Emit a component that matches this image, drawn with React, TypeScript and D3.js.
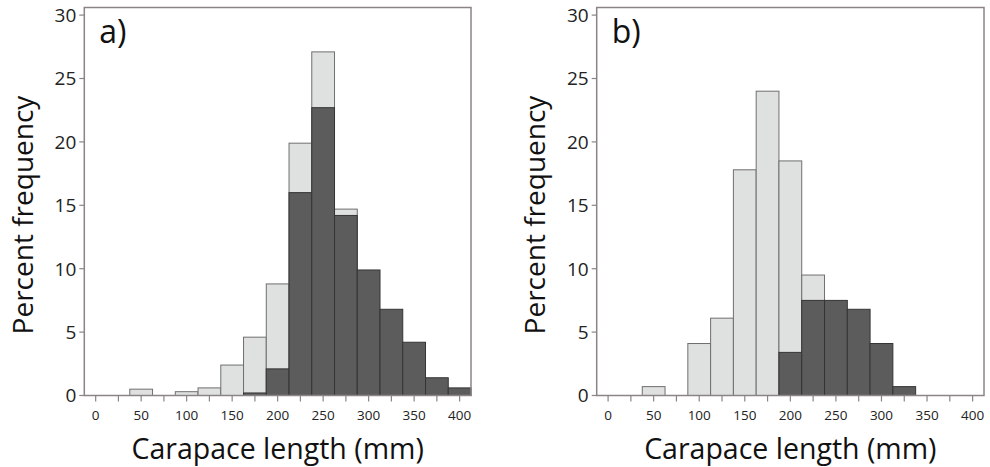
import React from 'react';
import * as d3 from 'd3';

// histogram bins are 25 mm wide, centred on multiples of 25
const binCenters = [0, 25, 50, 75, 100, 125, 150, 175, 200, 225, 250, 275, 300, 325, 350, 375, 400];

// panel a) light and dark series (percent frequency)
const lightA = [0, 0, 0.5, 0, 0.3, 0.6, 2.4, 4.6, 8.8, 19.9, 27.1, 14.7, 0, 0, 0, 0, 0];
const darkA = [0, 0, 0, 0, 0, 0, 0, 0.2, 2.1, 16.0, 22.7, 14.2, 9.9, 6.8, 4.2, 1.4, 0.6];

// panel b)
const lightB = [0, 0, 0.7, 0, 4.1, 6.1, 17.8, 24.0, 18.5, 9.5, 0, 0, 0, 0, 0, 0, 0];
const darkB = [0, 0, 0, 0, 0, 0, 0, 0, 3.4, 7.5, 7.5, 6.8, 4.1, 0.7, 0, 0, 0];

const xTickLabels = [0, 50, 100, 150, 200, 250, 300, 350, 400];
const xMinorTicks = [0, 25, 50, 75, 100, 125, 150, 175, 200, 225, 250, 275, 300, 325, 350, 375, 400];
const yTickLabels = [0, 5, 10, 15, 20, 25, 30];

const x_label = "Carapace length (mm)";
const y_label = "Percent frequency";

const W = 990;
const H = 467;
const plotTop = 7.5;
const plotBottom = 395.5;
const binWidth = 25;
const font = '"Open Sans", "Noto Sans", sans-serif';

const frameColor = '#8c8484';
const lightFill = '#dfe1e1';
const lightStroke = '#6f6f6f';
const darkFill = '#5c5c5c';
const darkStroke = '#353535';

interface PanelProps {
    left: number;
    right: number;
    tag: string;
    light: number[];
    dark: number[];
}

const Panel: React.FC<PanelProps> = (props) => {
    const xScale = d3.scaleLinear().domain([-12.5, 412.5]).range([props.left, props.right]);
    const yScale = d3.scaleLinear().domain([0, 30.6]).range([plotBottom, plotTop]);

    const bar = (c: number, v: number, fill: string, stroke: string, key: string) => {
        if (!v) return null;
        const x0 = xScale(c - binWidth / 2);
        const x1 = xScale(c + binWidth / 2);
        return (
            <rect key={key} x={x0} y={yScale(v)} width={x1 - x0} height={yScale(0) - yScale(v)}
                fill={fill} stroke={stroke} strokeWidth={1} />
        );
    };

    const midX = (props.left + props.right) / 2;

    return (
        <g>
            {/* light bars first, dark bars drawn over them */}
            {binCenters.map((c, i) => bar(c, props.light[i], lightFill, lightStroke, `l${i}`))}
            {binCenters.map((c, i) => bar(c, props.dark[i], darkFill, darkStroke, `d${i}`))}

            {/* frame */}
            <rect x={props.left} y={plotTop} width={props.right - props.left} height={plotBottom - plotTop}
                fill="none" stroke={frameColor} strokeWidth={1.5} />

            {/* y axis */}
            {yTickLabels.map(t => (
                <g key={`y${t}`}>
                    <line x1={props.left - 5} x2={props.left} y1={yScale(t)} y2={yScale(t)} stroke={frameColor} strokeWidth={1.2} />
                    <text x={props.left - 8} y={yScale(t)} dy="0.36em" textAnchor="end"
                        fontFamily={font} fontSize={19} fill="#222">{t}</text>
                </g>
            ))}

            {/* x axis */}
            {xMinorTicks.map(t => (
                <line key={`xt${t}`} x1={xScale(t)} x2={xScale(t)} y1={plotBottom} y2={plotBottom + 6}
                    stroke={frameColor} strokeWidth={1.2} />
            ))}
            {xTickLabels.map(t => (
                <text key={`xl${t}`} x={xScale(t)} y={420} textAnchor="middle"
                    fontFamily={font} fontSize={13.5} fill="#222">{t}</text>
            ))}

            {/* panel tag */}
            <text x={props.left + 15} y={43} fontFamily={font} fontSize={32} fill="#111">{props.tag}</text>

            {/* axis titles */}
            <text x={midX} y={459} textAnchor="middle" fontFamily={font} fontSize={28.5} fill="#111">{x_label}</text>
            <text transform={`translate(${props.left - 51.5}, 215) rotate(-90)`} textAnchor="middle"
                fontFamily={font} fontSize={28} fill="#111">{y_label}</text>
        </g>
    );
};

export default function App() {
    return (
        <svg width={W} height={H} style={{ position: 'absolute', left: 0, top: 0, background: '#fff' }}>
            <rect x={0} y={0} width={W} height={H} fill="#fff" />
            <Panel left={84.3} right={471} tag="a)" light={lightA} dark={darkA} />
            <Panel left={596.7} right={984} tag="b)" light={lightB} dark={darkB} />
        </svg>
    );
}
